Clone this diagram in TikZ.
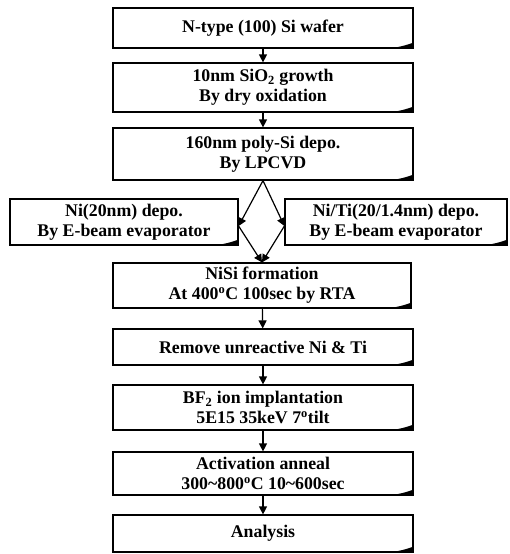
\documentclass[tikz,border=0pt]{standalone}
\usepackage{fontspec}
\setmainfont{Liberation Serif}
\usetikzlibrary{arrows.meta}

\tikzset{
  stepbox/.style={draw, line width=1.2pt, align=center, inner sep=0pt,
    font=\fontsize{17.8}{20}\selectfont\bfseries},
  flow/.style={-{Triangle[width=8pt,length=8pt]}, line width=1.2pt},
}
% small page curl at the lower right corner of a box
\newcommand{\pagecurl}[1]{%
  \fill ([xshift=-28pt]#1.south east) .. controls ([xshift=-14pt,yshift=1pt]#1.south east) and ([xshift=-6pt,yshift=4pt]#1.south east) .. ([yshift=6pt]#1.south east) -- (#1.south east) -- cycle;}

\begin{document}
\begin{tikzpicture}[x=1pt,y=-1pt]
		\useasboundingbox (0,0) rectangle (510,554);
		
		% main column
		\node[stepbox, minimum width=300pt, minimum height=40pt] (wafer) at (263,28) {N-type (100) Si wafer};
		\node[stepbox, minimum width=300pt, minimum height=49pt] (oxide) at (263,87.5) {10nm SiO\textsubscript{2} growth\\By dry oxidation};
		\node[stepbox, minimum width=300pt, minimum height=52pt] (poly) at (263,154) {160nm poly-Si depo.\\By LPCVD};
		
		% two branches
		\node[stepbox, minimum width=228pt, minimum height=46pt] (ni) at (124,222) {Ni(20nm) depo.\\By E-beam evaporator};
		\node[stepbox, minimum width=222pt, minimum height=46pt] (niti) at (396,222) {Ni/Ti(20/1.4nm) depo.\\By E-beam evaporator};
		
		% after silicidation
		\node[stepbox, minimum width=298pt, minimum height=45pt] (nisi) at (262,285.5) {NiSi formation\\At 400\textsuperscript{o}C 100sec by RTA};
		\node[stepbox, minimum width=300pt, minimum height=36pt] (strip) at (263,347) {Remove unreactive Ni \& Ti};
		\node[stepbox, minimum width=300pt, minimum height=45pt] (implant) at (263,407.5) {BF\textsubscript{2} ion implantation\\5E15 35keV 7\textsuperscript{o}tilt};
		\node[stepbox, minimum width=300pt, minimum height=43pt] (anneal) at (263,473.5) {Activation anneal\\300\textasciitilde800\textsuperscript{o}C 10\textasciitilde600sec};
		\node[stepbox, minimum width=300pt, minimum height=37pt] (analysis) at (263,533.5) {Analysis};
		
		\foreach \b in {wafer,oxide,poly,ni,niti,nisi,strip,implant,anneal,analysis}
		  \pagecurl{\b};
		
		% arrows
		\draw[flow] (wafer) -- (oxide);
		\draw[flow] (oxide) -- (poly);
		\draw[flow] (poly.south) -- ([yshift=-4pt]ni.east);
		\draw[flow] (poly.south) -- ([yshift=-4pt]niti.west);
		\draw[flow] ([yshift=-4pt]ni.east) -- (nisi.north);
		\draw[flow] ([yshift=-4pt]niti.west) -- (nisi.north);
		\draw[flow] (nisi) -- (strip);
		\draw[flow] (strip) -- (implant);
		\draw[flow] (implant) -- (anneal);
		\draw[flow] (anneal) -- (analysis);
	\end{tikzpicture}
\end{document}
